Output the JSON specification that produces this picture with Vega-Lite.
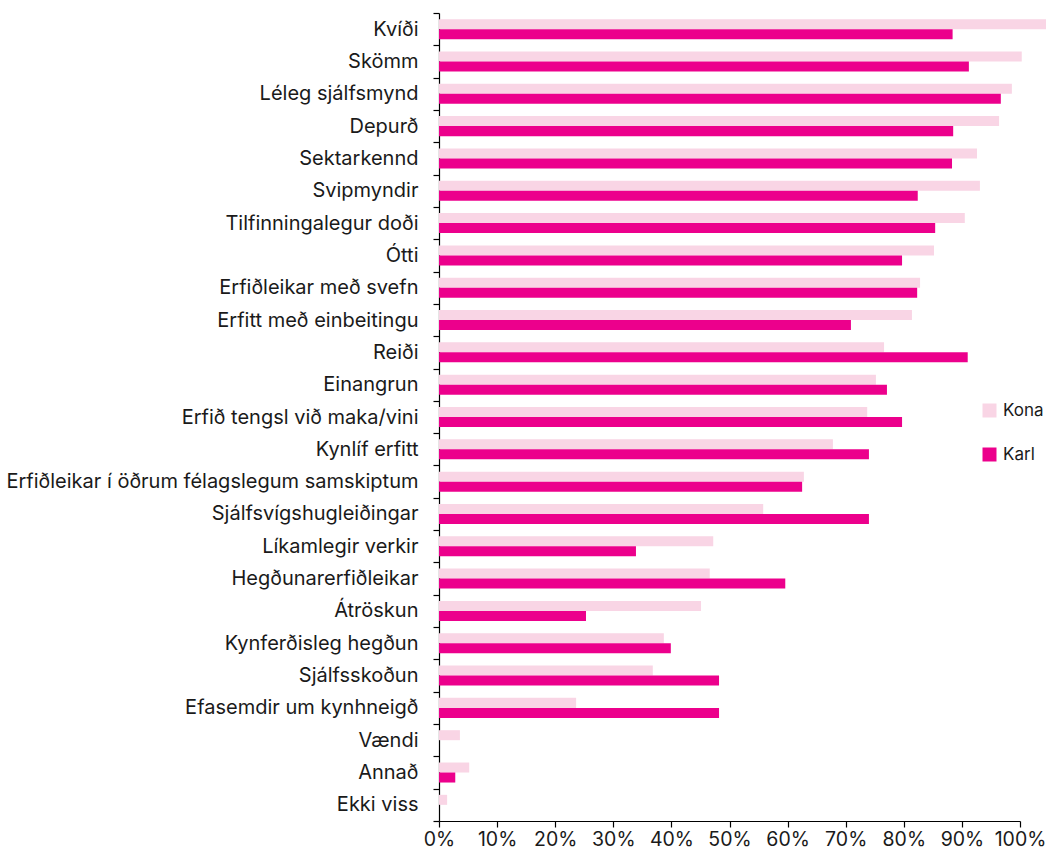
{
  "$schema": "https://vega.github.io/schema/vega-lite/v6.json",
  "autosize": {"type": "none"},
  "width": 581,
  "height": 808,
  "padding": {"left": 439, "top": 13, "right": 26, "bottom": 30},
  "background": "white",
  "config": {"view": {"stroke": null}, "font": "Inter"},
  "data": {"values": [
    {"flokkur": "Kvíði", "kyn": "Kona", "gildi": 107},
    {"flokkur": "Kvíði", "kyn": "Karl", "gildi": 88.4},
    {"flokkur": "Skömm", "kyn": "Kona", "gildi": 100.3},
    {"flokkur": "Skömm", "kyn": "Karl", "gildi": 91.2},
    {"flokkur": "Léleg sjálfsmynd", "kyn": "Kona", "gildi": 98.6},
    {"flokkur": "Léleg sjálfsmynd", "kyn": "Karl", "gildi": 96.7},
    {"flokkur": "Depurð", "kyn": "Kona", "gildi": 96.4},
    {"flokkur": "Depurð", "kyn": "Karl", "gildi": 88.5},
    {"flokkur": "Sektarkennd", "kyn": "Kona", "gildi": 92.6},
    {"flokkur": "Sektarkennd", "kyn": "Karl", "gildi": 88.3},
    {"flokkur": "Svipmyndir", "kyn": "Kona", "gildi": 93.1},
    {"flokkur": "Svipmyndir", "kyn": "Karl", "gildi": 82.4},
    {"flokkur": "Tilfinningalegur doði", "kyn": "Kona", "gildi": 90.5},
    {"flokkur": "Tilfinningalegur doði", "kyn": "Karl", "gildi": 85.4},
    {"flokkur": "Ótti", "kyn": "Kona", "gildi": 85.2},
    {"flokkur": "Ótti", "kyn": "Karl", "gildi": 79.7},
    {"flokkur": "Erfiðleikar með svefn", "kyn": "Kona", "gildi": 82.8},
    {"flokkur": "Erfiðleikar með svefn", "kyn": "Karl", "gildi": 82.3},
    {"flokkur": "Erfitt með einbeitingu", "kyn": "Kona", "gildi": 81.4},
    {"flokkur": "Erfitt með einbeitingu", "kyn": "Karl", "gildi": 70.9},
    {"flokkur": "Reiði", "kyn": "Kona", "gildi": 76.6},
    {"flokkur": "Reiði", "kyn": "Karl", "gildi": 91.0},
    {"flokkur": "Einangrun", "kyn": "Kona", "gildi": 75.2},
    {"flokkur": "Einangrun", "kyn": "Karl", "gildi": 77.1},
    {"flokkur": "Erfið tengsl við maka/vini", "kyn": "Kona", "gildi": 73.7},
    {"flokkur": "Erfið tengsl við maka/vini", "kyn": "Karl", "gildi": 79.7},
    {"flokkur": "Kynlíf erfitt", "kyn": "Kona", "gildi": 67.8},
    {"flokkur": "Kynlíf erfitt", "kyn": "Karl", "gildi": 74.0},
    {"flokkur": "Erfiðleikar í öðrum félagslegum samskiptum", "kyn": "Kona", "gildi": 62.8},
    {"flokkur": "Erfiðleikar í öðrum félagslegum samskiptum", "kyn": "Karl", "gildi": 62.5},
    {"flokkur": "Sjálfsvígshugleiðingar", "kyn": "Kona", "gildi": 55.8},
    {"flokkur": "Sjálfsvígshugleiðingar", "kyn": "Karl", "gildi": 74.0},
    {"flokkur": "Líkamlegir verkir", "kyn": "Kona", "gildi": 47.2},
    {"flokkur": "Líkamlegir verkir", "kyn": "Karl", "gildi": 33.9},
    {"flokkur": "Hegðunarerfiðleikar", "kyn": "Kona", "gildi": 46.6},
    {"flokkur": "Hegðunarerfiðleikar", "kyn": "Karl", "gildi": 59.6},
    {"flokkur": "Átröskun", "kyn": "Kona", "gildi": 45.1},
    {"flokkur": "Átröskun", "kyn": "Karl", "gildi": 25.3},
    {"flokkur": "Kynferðisleg hegðun", "kyn": "Kona", "gildi": 38.7},
    {"flokkur": "Kynferðisleg hegðun", "kyn": "Karl", "gildi": 39.9},
    {"flokkur": "Sjálfsskoðun", "kyn": "Kona", "gildi": 36.8},
    {"flokkur": "Sjálfsskoðun", "kyn": "Karl", "gildi": 48.2},
    {"flokkur": "Efasemdir um kynhneigð", "kyn": "Kona", "gildi": 23.6},
    {"flokkur": "Efasemdir um kynhneigð", "kyn": "Karl", "gildi": 48.2},
    {"flokkur": "Vændi", "kyn": "Kona", "gildi": 3.6},
    {"flokkur": "Vændi", "kyn": "Karl", "gildi": 0},
    {"flokkur": "Annað", "kyn": "Kona", "gildi": 5.2},
    {"flokkur": "Annað", "kyn": "Karl", "gildi": 2.8},
    {"flokkur": "Ekki viss", "kyn": "Kona", "gildi": 1.4},
    {"flokkur": "Ekki viss", "kyn": "Karl", "gildi": 0}
  ]},
  "mark": {"type": "bar"},
  "encoding": {
    "y": {
      "field": "flokkur", "type": "nominal", "sort": null,
      "scale": {"paddingInner": 0, "paddingOuter": 0},
      "axis": {"title": null, "tickBand": "extent", "labelFontSize": 20, "labelPadding": 15, "tickSize": 6,
               "domainColor": "#000000", "tickColor": "#000000", "labelColor": "#1a1a1a", "labelLimit": 600,
               "domainWidth": 1.2, "tickWidth": 1.2}
    },
    "x": {
      "field": "gildi", "type": "quantitative",
      "scale": {"domain": [0, 100], "nice": false},
      "axis": {"title": null, "grid": false, "values": [0, 10, 20, 30, 40, 50, 60, 70, 80, 90, 100],
               "labelExpr": "datum.value + '%'", "labelFlush": false, "labelOverlap": false,
               "labelFontSize": 19.5, "labelPadding": 3, "tickSize": 6, "domainColor": "#000000",
               "tickColor": "#000000", "labelColor": "#1a1a1a", "domainWidth": 1.2, "tickWidth": 1.2}
    },
    "yOffset": {"field": "kyn", "type": "nominal", "sort": ["Kona", "Karl"], "scale": {"paddingInner": 0, "paddingOuter": 0.615}},
    "color": {
      "field": "kyn", "type": "nominal", "sort": ["Kona", "Karl"],
      "scale": {"domain": ["Kona", "Karl"], "range": ["#F9D5E5", "#EC008C"]},
      "legend": {"title": null, "orient": "none", "legendX": 542, "legendY": 389, "symbolType": "square",
                 "symbolSize": 196, "symbolStrokeWidth": 0, "labelFontSize": 17, "labelColor": "#1a1a1a",
                 "rowPadding": 26, "labelOffset": 5}
    }
  }
}
